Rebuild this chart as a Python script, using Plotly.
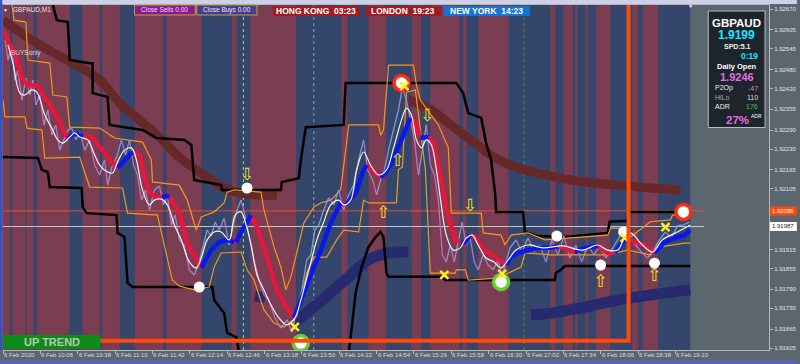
import plotly.graph_objects as go

# ---------------- data (bars = minutes since 09:34, prices GBPAUD) ----------------
x_tick_bars = [0, 32, 64, 96, 128, 160, 192, 224, 256, 288, 320, 352, 384, 416, 448, 480, 512, 544, 576]
x_tick_text = ["6 Feb 2020", "6 Feb 10:06", "6 Feb 10:38", "6 Feb 11:10", "6 Feb 11:42", "6 Feb 12:14",
               "6 Feb 12:46", "6 Feb 13:18", "6 Feb 13:50", "6 Feb 14:22", "6 Feb 14:54", "6 Feb 15:26",
               "6 Feb 15:58", "6 Feb 16:30", "6 Feb 17:02", "6 Feb 17:34", "6 Feb 18:06", "6 Feb 18:38",
               "6 Feb 19:10"]
y_tick_vals = [1.92670, 1.92605, 1.92545, 1.92480, 1.92420, 1.92355, 1.92290, 1.92230, 1.92165,
               1.92105, 1.91915, 1.91855, 1.91790, 1.91730, 1.91665, 1.91605]

last_bar = 588.7
bear_start = [0, 8, 20, 29, 68, 85, 113, 140, 196, 212, 290, 313, 350, 366, 394, 407, 469, 480, 490, 499, 508, 539, 548]
bear_end = [6, 19, 26, 57, 83, 100, 137, 170, 200, 251, 295, 328, 358, 391, 397, 433, 473, 488, 492, 501, 520, 544, 561]

vline_bars = [205.9, 266.2, 446.2]
vline_colors = ["#c8d060", "#8c9cc0", "#3c9c3c"]

black_upper_x = [42.7, 46.1, 55.5, 57.2, 74.2, 76.8, 76.8, 89.6, 91.3, 119.5, 131.4, 151.0, 155.3, 161.3, 163.8,
                 186.9, 187.7, 238.0, 238.9, 253.4, 255.1, 259.4, 291.8, 293.5, 388.2, 394.2, 398.5, 409.6,
                 413.8, 418.1, 421.5, 422.4, 445.4, 447.1, 458.2, 481.2, 517.9, 519.6, 535.0, 535.8, 577.6]
black_upper_y = [1.92683, 1.92635, 1.92629, 1.92510, 1.92500, 1.92500, 1.92406, 1.92394, 1.92306, 1.92290,
                 1.92265, 1.92262, 1.92259, 1.92243, 1.92133, 1.92117, 1.92102, 1.92102, 1.92127, 1.92139,
                 1.92196, 1.92299, 1.92306, 1.92438, 1.92438, 1.92406, 1.92343, 1.92328, 1.92249, 1.92196,
                 1.92092, 1.92033, 1.92033, 1.91970, 1.91957, 1.91954, 1.91967, 1.92002, 1.92005, 1.92033,
                 1.92033]

black_lower_x = [0.0, 29.9, 33.3, 38.4, 40.1, 67.4, 68.3, 71.7, 97.3, 98.1, 104.1, 106.7, 110.9, 179.2, 180.9,
                 189.4, 192.0, 199.7, 204.0, 295.2, 297.8, 302.0, 307.2, 313.1, 319.1, 323.4, 325.9, 328.5,
                 330.2, 375.4, 378.8, 472.7, 473.5, 477.8, 481.2, 588.7]
black_lower_y = [1.92205, 1.92202, 1.92165, 1.92158, 1.92111, 1.92108, 1.92048, 1.92029, 1.92023, 1.91967,
                 1.91954, 1.91810, 1.91797, 1.91797, 1.91756, 1.91715, 1.91653, 1.91640, 1.91560, 1.91560,
                 1.91640, 1.91778, 1.91860, 1.91923, 1.91954, 1.91970, 1.91954, 1.91841, 1.91829, 1.91829,
                 1.91819, 1.91819, 1.91841, 1.91851, 1.91863, 1.91863]

band_a_x = [7.7, 9.4, 19.6, 21.3, 40.1, 42.7, 54.6, 57.2, 82.8, 95.6, 119.5, 127.1, 128.0, 151.0, 157.8, 163.8,
            165.5, 169.8, 180.9, 189.4, 192.0, 198.0, 221.0, 223.5, 232.1, 238.0, 242.3, 246.6, 251.7, 257.7,
            266.2, 272.2, 280.7, 289.2, 293.5, 296.1, 321.7, 323.4, 325.9, 330.2, 351.5, 354.1, 357.5, 372.9,
            381.4, 384.0, 409.6, 411.3, 426.6, 430.0, 435.2, 449.7, 464.2, 492.3, 518.0, 520.5, 535.0, 537.5,
            554.6, 571.7, 573.4, 588.7]
band_a_y = [1.92683, 1.92635, 1.92629, 1.92510, 1.92500, 1.92400, 1.92394, 1.92299, 1.92296, 1.92265, 1.92252,
            1.92196, 1.92127, 1.92117, 1.92070, 1.91998, 1.91976, 1.92017, 1.92033, 1.92061, 1.92095, 1.92102,
            1.92095, 1.92039, 1.91923, 1.91860, 1.91788, 1.91829, 1.91904, 1.91998, 1.92048, 1.92061, 1.92070,
            1.92102, 1.92227, 1.92306, 1.92306, 1.92274, 1.92290, 1.92494, 1.92494, 1.92431, 1.92384, 1.92306,
            1.92234, 1.92029, 1.92029, 1.91967, 1.91960, 1.91929, 1.91960, 1.91967, 1.91945, 1.91954, 1.91960,
            1.91982, 1.91982, 1.91954, 1.92002, 1.92008, 1.92023, 1.92023]

band_b_x = [0.0, 1.7, 18.8, 20.5, 33.3, 35.8, 65.7, 74.2, 102.4, 106.7, 132.3, 135.7, 145.0, 151.0, 163.8, 176.6,
            180.9, 186.9, 204.0, 209.0, 215.0, 223.5, 232.1, 240.6, 251.7, 260.2, 266.2, 277.3, 285.8, 291.8,
            304.6, 308.9, 313.1, 337.0, 338.7, 342.1, 345.6, 353.2, 361.8, 366.0, 387.4, 388.2, 395.9, 398.5,
            424.0, 443.7, 447.1, 469.3, 518.0, 535.0, 554.6, 563.1, 583.6, 588.7]
band_b_y = [1.92384, 1.92331, 1.92331, 1.92296, 1.92290, 1.92202, 1.92205, 1.92111, 1.92108, 1.92029, 1.92023,
            1.91970, 1.91819, 1.91800, 1.91788, 1.91797, 1.91860, 1.91904, 1.91907, 1.91851, 1.91819, 1.91725,
            1.91684, 1.91671, 1.91703, 1.91841, 1.91891, 1.91891, 1.91945, 1.91976, 1.91970, 1.92070, 1.92061,
            1.92061, 1.92165, 1.92174, 1.92409, 1.92416, 1.92165, 1.91841, 1.91841, 1.91851, 1.91851, 1.91819,
            1.91825, 1.91860, 1.91904, 1.91898, 1.91898, 1.91913, 1.91898, 1.91923, 1.91935, 1.91935]

ma_x = [0.0, 11.9, 16.2, 21.3, 29.0, 31.6, 37.5, 42.7, 46.9, 51.2, 55.5, 58.9, 64.0, 68.3, 75.9, 82.8, 89.6,
        98.1, 104.1, 110.9, 116.9, 121.2, 125.4, 131.4, 136.5, 139.9, 142.5, 151.0, 157.8, 166.4, 169.8, 178.3,
        185.2, 192.0, 198.0, 199.7, 204.8, 212.5, 217.6, 223.5, 229.5, 234.6, 240.6, 249.1, 255.1, 263.7, 272.2,
        280.7, 289.2, 293.5, 302.0, 308.9, 311.4, 315.7, 323.4, 327.6, 332.8, 338.7, 344.7, 349.0, 353.2, 357.5,
        360.1, 364.3, 368.6, 374.6, 381.4, 387.4, 392.5, 395.9, 400.2, 404.4, 409.6, 415.5, 421.5, 428.3, 430.9,
        435.2, 441.1, 452.2, 458.2, 469.3, 475.3, 483.8, 489.8, 498.3, 509.4, 518.0, 523.9, 532.4, 537.5, 543.5,
        552.0, 558.0, 566.6, 575.1, 583.6, 588.7]
ma_y = [1.92604, 1.92510, 1.92453, 1.92431, 1.92431, 1.92416, 1.92384, 1.92353, 1.92328, 1.92290, 1.92265,
        1.92274, 1.92278, 1.92268, 1.92268, 1.92237, 1.92205, 1.92171, 1.92196, 1.92221, 1.92212, 1.92142,
        1.92092, 1.92080, 1.92077, 1.92083, 1.92080, 1.92030, 1.91935, 1.91882, 1.91857, 1.91913, 1.91938,
        1.91945, 1.91938, 1.91938, 1.91976, 1.92023, 1.91986, 1.91923, 1.91851, 1.91788, 1.91747, 1.91700,
        1.91756, 1.91829, 1.91913, 1.91998, 1.92061, 1.92055, 1.92092, 1.92165, 1.92180, 1.92165, 1.92142,
        1.92155, 1.92186, 1.92237, 1.92290, 1.92328, 1.92312, 1.92265, 1.92265, 1.92268, 1.92249, 1.92142,
        1.92017, 1.91945, 1.91938, 1.91938, 1.91960, 1.91954, 1.91923, 1.91904, 1.91892, 1.91873, 1.91866,
        1.91892, 1.91904, 1.91913, 1.91920, 1.91920, 1.91926, 1.91913, 1.91907, 1.91920, 1.91926, 1.91904,
        1.91904, 1.91945, 1.91945, 1.91935, 1.91923, 1.91904, 1.91938, 1.91951, 1.91960, 1.91976]
ma_trend = ([-1] * 10 + [1] * 3 + [-1] * 4 + [1] * 2 + [-1] * 5 + [1] * 2 + [-1] * 4 + [1] * 4 + [-1] * 1
            + [1] * 2 + [-1] * 6 + [1] * 5 + [-1] * 1 + [1] * 3 + [-1] * 2 + [1] * 5 + [-1] * 2 + [1] * 2
            + [-1] * 5 + [1] * 2 + [-1] * 6 + [1] * 6 + [-1] * 2 + [1] * 2 + [-1] * 2 + [1] * 2 + [-1] * 3
            + [1] * 5)

fast_x = [4.3, 8.5, 14.5, 18.8, 24.7, 29.0, 35.8, 41.8, 46.9, 51.2, 57.2, 61.4, 65.7, 72.5, 78.5, 82.8, 89.6,
          93.9, 98.1, 104.1, 110.1, 114.3, 119.5, 125.4, 129.7, 135.7, 140.8, 146.8, 152.7, 159.6, 165.5, 169.8,
          174.9, 180.9, 186.9, 193.7, 198.8, 203.9, 208.2, 212.5, 217.6, 223.5, 229.5, 236.3, 243.2, 250.0,
          255.1, 262.0, 268.8, 274.7, 280.7, 287.5, 291.8, 297.8, 302.9, 308.9, 314.8, 321.7, 328.5, 334.5,
          341.3, 345.6, 349.8, 354.1, 358.4, 362.6, 366.9, 371.2, 375.4, 379.7, 385.7, 391.6, 396.8, 401.9,
          407.0, 413.8, 420.6, 426.6, 432.6, 439.4, 449.7, 462.5, 479.5, 496.6, 509.4, 518.0, 526.5, 532.4,
          537.5, 547.8, 556.3, 564.8, 577.6, 588.7]
fast_y = [1.92557, 1.92500, 1.92406, 1.92400, 1.92416, 1.92409, 1.92337, 1.92296, 1.92259, 1.92249, 1.92268,
          1.92281, 1.92268, 1.92259, 1.92212, 1.92180, 1.92158, 1.92155, 1.92190, 1.92227, 1.92234, 1.92196,
          1.92102, 1.92055, 1.92070, 1.92073, 1.92055, 1.91992, 1.91945, 1.91876, 1.91857, 1.91888, 1.91945,
          1.91970, 1.91970, 1.91945, 1.92023, 1.92033, 1.91992, 1.91929, 1.91835, 1.91788, 1.91741, 1.91700,
          1.91678, 1.91700, 1.91756, 1.91851, 1.91945, 1.92001, 1.92055, 1.92070, 1.92055, 1.92070, 1.92165,
          1.92221, 1.92180, 1.92149, 1.92165, 1.92234, 1.92321, 1.92359, 1.92337, 1.92259, 1.92234, 1.92259,
          1.92243, 1.92165, 1.92055, 1.91960, 1.91913, 1.91920, 1.91951, 1.91960, 1.91929, 1.91888, 1.91876,
          1.91857, 1.91882, 1.91913, 1.91929, 1.91920, 1.91926, 1.91913, 1.91929, 1.91913, 1.91913, 1.91951,
          1.91967, 1.91929, 1.91907, 1.91945, 1.91970, 1.91992]

price_x = [1.7, 4.3, 7.7, 10.2, 12.8, 16.2, 19.6, 23.0, 25.6, 28.2, 31.6, 35.0, 38.4, 41.8, 45.2, 48.6, 52.0,
           55.5, 58.9, 62.3, 65.7, 70.0, 74.2, 78.5, 82.8, 87.0, 89.6, 93.0, 98.1, 101.5, 104.9, 108.4, 111.8,
           115.2, 118.6, 122.0, 125.4, 129.7, 134.0, 137.4, 140.8, 144.2, 147.6, 151.0, 155.3, 159.6, 163.8,
           168.1, 171.5, 174.9, 178.3, 181.7, 185.2, 189.4, 193.7, 197.1, 200.5, 203.9, 207.3, 210.7, 215.0,
           219.3, 223.5, 227.8, 232.9, 238.0, 243.2, 247.4, 251.7, 256.0, 260.2, 263.7, 267.1, 270.5, 274.7,
           279.0, 283.3, 287.5, 291.8, 296.1, 300.3, 304.6, 308.9, 312.3, 316.6, 320.0, 323.4, 326.8, 330.2,
           334.5, 338.7, 342.1, 345.6, 349.0, 352.4, 355.8, 359.2, 362.6, 366.0, 369.5, 372.9, 376.3, 379.7,
           383.1, 386.5, 389.9, 393.3, 396.8, 400.2, 403.6, 407.0, 411.3, 415.5, 419.8, 424.0, 427.5, 430.9,
           434.3, 439.4, 444.5, 449.7, 454.8, 459.9, 465.0, 470.1, 475.3, 480.4, 485.5, 490.6, 495.7, 500.9,
           506.0, 511.1, 516.2, 521.3, 526.5, 531.6, 536.7, 541.8, 546.9, 552.0, 557.2, 562.3, 567.4, 572.5,
           577.6, 582.8, 587.9]
price_y = [1.92573, 1.92510, 1.92557, 1.92447, 1.92478, 1.92384, 1.92453, 1.92400, 1.92447, 1.92369, 1.92400,
           1.92306, 1.92353, 1.92274, 1.92306, 1.92227, 1.92259, 1.92290, 1.92296, 1.92259, 1.92284, 1.92227,
           1.92259, 1.92180, 1.92149, 1.92196, 1.92117, 1.92171, 1.92212, 1.92259, 1.92212, 1.92259, 1.92180,
           1.92149, 1.92070, 1.92102, 1.92039, 1.92102, 1.92114, 1.92055, 1.92086, 1.91992, 1.92023, 1.91945,
           1.91929, 1.91851, 1.91835, 1.91876, 1.91929, 1.91976, 1.91957, 1.92001, 1.91976, 1.92013, 1.91929,
           1.91992, 1.92039, 1.92070, 1.92023, 1.91960, 1.91882, 1.91819, 1.91772, 1.91756, 1.91700, 1.91668,
           1.91694, 1.91656, 1.91725, 1.91788, 1.91882, 1.91898, 1.91976, 1.91992, 1.92039, 1.92077, 1.92055,
           1.92102, 1.92039, 1.92086, 1.92117, 1.92196, 1.92259, 1.92165, 1.92133, 1.92086, 1.92133, 1.92165,
           1.92227, 1.92290, 1.92353, 1.92422, 1.92384, 1.92321, 1.92259, 1.92149, 1.92227, 1.92306, 1.92180,
           1.92149, 1.92070, 1.91898, 1.91876, 1.91929, 1.91876, 1.91945, 1.92001, 1.91929, 1.91951, 1.91876,
           1.91851, 1.91898, 1.91866, 1.91851, 1.91882, 1.91832, 1.91876, 1.91920, 1.91945, 1.91907, 1.91951,
           1.91907, 1.91929, 1.91876, 1.91945, 1.91898, 1.91957, 1.91888, 1.91929, 1.91876, 1.91929, 1.91898,
           1.91926, 1.91888, 1.91913, 1.91945, 1.91976, 1.91951, 1.91929, 1.91907, 1.91888, 1.91913, 1.91945,
           1.91970, 1.91951, 1.91989, 1.91992, 1.92001]

slow1_x = [0.0, 27.3, 54.6, 82.8, 99.8, 116.9, 134.0, 151.0, 174.9, 189.4, 203.9, 217.6, 234.6]
slow1_y = [1.92635, 1.92566, 1.92510, 1.92447, 1.92375, 1.92321, 1.92268, 1.92205, 1.92142, 1.92108, 1.92092,
           1.92086, 1.92086]
slow2_x = [347.3, 366.9, 381.4, 404.4, 421.5, 441.1, 458.2, 486.3, 526.5, 554.6, 580.2]
slow2_y = [1.92384, 1.92353, 1.92312, 1.92249, 1.92202, 1.92171, 1.92155, 1.92133, 1.92117, 1.92108, 1.92102]

trend0_x = [215.9, 224.4]
trend0_y = [1.91769, 1.91763]
trend1_x = [249.1, 266.2, 283.3, 296.1, 313.1, 330.2, 347.3]
trend1_y = [1.91684, 1.91734, 1.91788, 1.91829, 1.91882, 1.91904, 1.91907]
trend2_x = [452.2, 469.3, 498.3, 526.5, 554.6, 588.7]
trend2_y = [1.91709, 1.91715, 1.91734, 1.91756, 1.91772, 1.91788]

box_x = [-30.0, 535.8]
box_y = [1.91628, 1.93000]

level_orange = 1.92036
level_bid = 1.91987
level_end_bar = 600.7

dot_x = [168.1, 209.0, 474.4, 511.9, 531.6, 558.0]
dot_y = [1.91797, 1.92108, 1.91957, 1.91866, 1.91970, 1.91872]
sell_ring_x = [341.3, 582.8]
sell_ring_y = [1.92438, 1.92033]
buy_ring_x = [255.1, 426.6]
buy_ring_y = [1.91621, 1.91813]
cross_x = [250.0, 343.9, 378.0, 427.5, 532.4, 567.4]
cross_y = [1.91672, 1.92428, 1.91835, 1.91838, 1.91951, 1.91985]
down_arrow_x = [209.0, 363.5, 400.2]
down_arrow_y = [1.92146, 1.92331, 1.92048]
up_arrow_x = [325.9, 337.9, 511.9, 558.0]
up_arrow_y = [1.92026, 1.92190, 1.91810, 1.91829]

# ---------------- layout helpers ----------------
W, H = 800, 364
ML, MR, MT, MB = 3, 28, 5, 14
PW, PH = W - ML - MR, H - MT - MB


def fx(px):
    return (px - ML) / PW


def fy(py):
    return (H - MB - py) / PH


GRAY = "#5c666f"
NAVY = "#34466b"
MAROON = "#7a3d52"
FONT = "Liberation Sans"

fig = go.Figure()


def add_line(x, y, color, width, shape="linear", opacity=1.0, dash=None):
    fig.add_trace(go.Scatter(x=x, y=y, mode="lines", opacity=opacity, hoverinfo="skip",
                             line=dict(color=color, width=width, shape=shape, dash=dash)))


def runs(xs, ys, flags, want):
    X, Y, prev = [], [], False
    for i in range(len(xs) - 1):
        if flags[i] == want:
            if not prev:
                if X:
                    X.append(None)
                    Y.append(None)
                X.append(xs[i])
                Y.append(ys[i])
            X.append(xs[i + 1])
            Y.append(ys[i + 1])
            prev = True
        else:
            prev = False
    return X, Y


# slow curves
add_line(slow1_x, slow1_y, "#672829", 9, "spline")
add_line(slow2_x, slow2_y, "#672829", 9, "spline")
add_line(trend0_x, trend0_y, "#272a6e", 11, "spline")
add_line(trend1_x, trend1_y, "#272a6e", 11, "spline")
add_line(trend2_x, trend2_y, "#272a6e", 11, "spline")

# horizontal levels
add_line([0, level_end_bar], [level_orange, level_orange], "#e8502a", 1)
add_line([0, level_end_bar], [level_bid, level_bid], "#c4c8cc", 1)

# channels
add_line(black_upper_x, black_upper_y, "#000000", 2.5)
add_line(black_lower_x, black_lower_y, "#000000", 2.5)
add_line(band_a_x, band_a_y, "#f0981e", 1.2)
add_line(band_b_x, band_b_y, "#f0981e", 1.2)

# price path
price_dir = [1 if price_y[i + 1] >= price_y[i] else -1 for i in range(len(price_y) - 1)] + [1]
ux, uy = runs(price_x, price_y, price_dir, 1)
dx, dy = runs(price_x, price_y, price_dir, -1)
add_line(ux, uy, "#86a8d4", 1.3, opacity=0.9)
add_line(dx, dy, "#c676c8", 1.3, opacity=0.9)

# main moving average (coloured by trend)
rx, ry = runs(ma_x, ma_y, ma_trend, -1)
bx, by = runs(ma_x, ma_y, ma_trend, 1)
add_line(rx, ry, "#e8163c", 4.5)
add_line(bx, by, "#0a18f0", 4.5)

# fast MA
add_line(fast_x, fast_y, "#f4f4f4", 1.2, "spline")

# signals
fig.add_trace(go.Scatter(x=dot_x, y=dot_y, mode="markers", hoverinfo="skip",
                         marker=dict(size=11, color="white", line=dict(width=0))))
fig.add_trace(go.Scatter(x=sell_ring_x, y=sell_ring_y, mode="markers", hoverinfo="skip",
                         marker=dict(size=15, color="white", line=dict(width=3.5, color="#ff2a10"))))
fig.add_trace(go.Scatter(x=buy_ring_x, y=buy_ring_y, mode="markers", hoverinfo="skip",
                         marker=dict(size=15, color="white", line=dict(width=3.5, color="#66cc33"))))
fig.add_trace(go.Scatter(x=cross_x, y=cross_y, mode="markers", hoverinfo="skip",
                         marker=dict(symbol="x-thin", size=8, line=dict(width=2.5, color="#ffee22"))))
fig.add_trace(go.Scatter(x=down_arrow_x, y=down_arrow_y, mode="text", text=["⇩"] * len(down_arrow_x),
                         hoverinfo="skip", textfont=dict(size=17, color="#f2e81a", family="DejaVu Sans")))
fig.add_trace(go.Scatter(x=up_arrow_x, y=up_arrow_y, mode="text", text=["⇧"] * len(up_arrow_x),
                         hoverinfo="skip", textfont=dict(size=17, color="#f2e81a", family="DejaVu Sans")))

# ---------------- shapes ----------------
shapes = [dict(type="rect", xref="x", yref="paper", x0=0, x1=last_bar, y0=0, y1=1,
               fillcolor=NAVY, line_width=0, layer="below")]
for a, b in zip(bear_start, bear_end):
    shapes.append(dict(type="rect", xref="x", yref="paper", x0=a, x1=b, y0=0, y1=1,
                       fillcolor=MAROON, line_width=0, layer="below"))
for v, c in zip(vline_bars, vline_colors):
    shapes.append(dict(type="line", xref="x", yref="paper", x0=v, x1=v, y0=0, y1=1,
                       line=dict(color=c, width=1, dash="dot"), layer="below"))
shapes.append(dict(type="rect", xref="x", yref="y", x0=box_x[0], x1=box_x[1], y0=box_y[0], y1=box_y[1],
                   line=dict(color="#ff4a0a", width=4), fillcolor="rgba(0,0,0,0)", layer="above"))


def prect(x0, y0, x1, y1, fill, border=None, bw=1):
    shapes.append(dict(type="rect", xref="paper", yref="paper", x0=fx(x0), x1=fx(x1), y0=fy(y1), y1=fy(y0),
                       fillcolor=fill, line=dict(color=border or fill, width=bw if border else 0),
                       layer="above"))


# window frame
prect(0, 0, 800, 4, "#cdd0e6")
prect(0, 0, 2.2, 350, "#3a4fc2")
prect(0, 361, 800, 364, "#5a60c8")
# buttons / session boxes
prect(135, 5, 196, 15, "#8c1a8e", "#b4a838", 1)
prect(197.5, 5, 258, 15, "#4b3d8e", "#b4a838", 1)
prect(274, 6, 361, 16, "#a01c24")
prect(367, 6, 443, 16, "#a01c24")
prect(445, 6, 532, 16, "#1a72d0")
# info panel
prect(711, 11, 768, 127.5, "#1d242b", "#b8bcc0", 1)
# trend box
prect(3, 335, 101, 349, "#0d8c17")
# price labels
prect(773, 206.5, 800, 215.5, "#ff4a0a")
prect(773, 222, 800, 231, "#ffffff")

# ---------------- annotations ----------------
ann = []


def text(px, py, s, size, color, xanchor="center", bold=False, family=FONT, xref_data=None):
    ann.append(dict(x=fx(px) if xref_data is None else xref_data, y=fy(py),
                    xref="paper" if xref_data is None else "x", yref="paper",
                    text=f"<b>{s}</b>" if bold else s, showarrow=False, xanchor=xanchor, yanchor="middle",
                    font=dict(size=size, color=color, family=family), borderpad=0))


for b, t in zip(x_tick_bars, x_tick_text):
    text(0, 354.5, t, 6, "#dcdcdc", xanchor="left", xref_data=b)

text(6, 9.5, "▼", 5, "#e8e8e8")
text(12, 9.5, "GBPAUD,M1", 6.5, "#e4e4e4", xanchor="left")
text(10, 53, "BUYSonly", 6.5, "#d8d8d8", xanchor="left")
text(693, 6.5, "▼", 5, "#ffffff")

text(165.5, 10, "Close Sells 0.00", 6.5, "#f6d6f6")
text(227.7, 10, "Close Buys 0.00", 6.5, "#e8e8f8")
text(317.5, 11, "HONG KONG  03:23", 8.5, "#ffffff", bold=True)
text(405, 11, "LONDON  19:23", 8.5, "#ffffff", bold=True)
text(488.5, 11, "NEW YORK  14:23", 8.5, "#ffffff", bold=True)

text(739.5, 22.5, "GBPAUD", 11.5, "#ffffff", bold=True)
text(739.5, 35.5, "1.9199", 12, "#1ee6ff", bold=True)
text(740, 46.5, "SPD:5.1", 7, "#f0f0f0", bold=True)
text(762, 56, "0:19", 8.5, "#1ee6ff", xanchor="right", bold=True)
text(740, 66, "Daily Open", 7.5, "#ffffff", bold=True)
text(740, 77, "1.9246", 11, "#e070e0", bold=True)
text(717, 88, "P2Op", 7, "#ececec", xanchor="left")
text(762, 88, "-47", 7, "#e070e0", xanchor="right")
text(717, 97.5, "HiLo", 7, "#a8a8a8", xanchor="left")
text(762, 97.5, "110", 7, "#dcdcdc", xanchor="right")
text(717, 107, "ADR", 7, "#f0f0f0", xanchor="left")
text(762, 107, "176", 7, "#3cc83c", xanchor="right")
text(740.5, 120.5, "27%", 11.5, "#e070e0", bold=True)
text(753, 115.5, "ADR", 5, "#ffffff", xanchor="left")

text(52, 342, "UP TREND", 11, "#b8c8b8", bold=True)
text(786.5, 211, f"{level_orange:.5f}", 6, "#ffffff")
text(786.5, 226.5, f"{level_bid:.5f}", 6, "#202020")

fig.update_layout(
    width=W, height=H, margin=dict(l=ML, r=MR, t=MT, b=MB),
    paper_bgcolor=GRAY, plot_bgcolor=GRAY, showlegend=False,
    shapes=shapes, annotations=ann,
    xaxis=dict(range=[0, 656.1], showgrid=False, zeroline=False, showline=True, linecolor="#b4b8bc",
               linewidth=1, mirror=True, ticks="outside", tickvals=x_tick_bars, ticklen=3,
               tickcolor="#b4b8bc", showticklabels=False, fixedrange=True),
    yaxis=dict(range=[1.915993, 1.926826], side="right", showgrid=False, zeroline=False, showline=True,
               linecolor="#b4b8bc", linewidth=1, ticks="outside", ticklen=3, tickcolor="#b4b8bc",
               tickvals=y_tick_vals, ticktext=[f"{v:.5f}" for v in y_tick_vals],
               tickfont=dict(size=6, color="#e4e4e4", family=FONT), fixedrange=True),
)

fig.write_html("out.html")
